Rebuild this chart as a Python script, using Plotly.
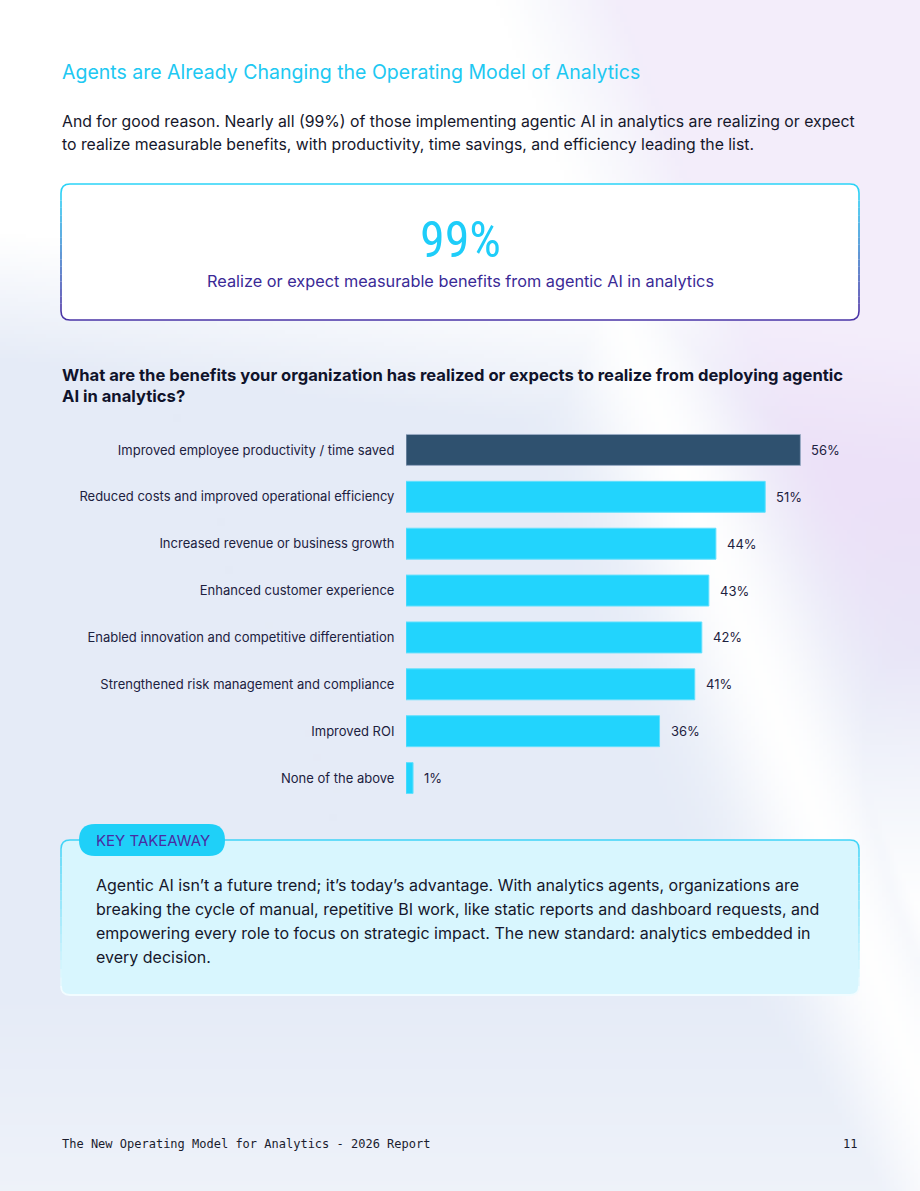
import base64, struct, zlib
import numpy as np
import plotly.graph_objects as go

# ---------------- data ----------------
categories = [
    "Improved employee productivity / time saved",
    "Reduced costs and improved operational efficiency",
    "Increased revenue or business growth",
    "Enhanced customer experience",
    "Enabled innovation and competitive differentiation",
    "Strengthened risk management and compliance",
    "Improved ROI",
    "None of the above",
]
values = [56, 51, 44, 43, 42, 41, 36, 1]
value_labels = ["56%", "51%", "44%", "43%", "42%", "41%", "36%", "1%"]
highlight_index = 0

title_text = "Agents are Already Changing the Operating Model of Analytics"
intro_lines = [
    "And for good reason. Nearly all (99%) of those implementing agentic AI in analytics are realizing or expect",
    "to realize measurable benefits, with productivity, time savings, and efficiency leading the list.",
]
stat_value = "99%"
stat_caption = "Realize or expect measurable benefits from agentic AI in analytics"
question_lines = [
    "What are the benefits your organization has realized or expects to realize from deploying agentic",
    "AI in analytics?",
]
takeaway_label = "KEY TAKEAWAY"
takeaway_lines = [
    "Agentic AI isn\u2019t a future trend; it\u2019s today\u2019s advantage. With analytics agents, organizations are",
    "breaking the cycle of manual, repetitive BI work, like static reports and dashboard requests, and",
    "empowering every role to focus on strategic impact. The new standard: analytics embedded in",
    "every decision.",
]
footer_left = "The New Operating Model for Analytics - 2026 Report"
footer_right = "11"

# ---------------- page geometry helpers ----------------
W, H = 920, 1191
def X(px):
    return px / W
def Y(py):
    return 1 - py / H

def rrect(x0, y0, x1, y1, r):
    return (f"M {X(x0+r)},{Y(y0)} L {X(x1-r)},{Y(y0)} Q {X(x1)},{Y(y0)} {X(x1)},{Y(y0+r)} "
            f"L {X(x1)},{Y(y1-r)} Q {X(x1)},{Y(y1)} {X(x1-r)},{Y(y1)} "
            f"L {X(x0+r)},{Y(y1)} Q {X(x0)},{Y(y1)} {X(x0)},{Y(y1-r)} "
            f"L {X(x0)},{Y(y0+r)} Q {X(x0)},{Y(y0)} {X(x0+r)},{Y(y0)} Z")

# ---------------- decorative background (gradient image) ----------------
S = 4
gh, gw = H // S + 1, W // S + 1
ys, xs = np.mgrid[0:gh, 0:gw].astype(float) * S + S / 2
blue = np.array([229, 235, 247], float)
purple = np.array([236, 225, 248], float)
lx0, ly0, lx1, ly1 = 500.0, 0.0, 890.0, 1000.0
ddx, ddy = lx1 - lx0, ly1 - ly0
L = np.hypot(ddx, ddy)
d = ((xs - lx0) * ddy - (ys - ly0) * ddx) / L
wp = np.clip(d / 130, 0, 1) * np.clip((820 - ys) / 320, 0, 1)
col = blue[None, None, :] * (1 - wp[..., None]) + purple[None, None, :] * wp[..., None]
ythr = 300 + 0.12 * xs
w_top = np.clip((ythr - ys) / 130 + 0.5, 0, 1) * (1 - 0.6 * np.clip(d / 110, 0, 1))
w_band = 0.97 * np.exp(-(d / 75) ** 2)
w_bot = np.clip((ys - 980) / 260, 0, 1) * 0.45
w_right = np.clip((ys - 650) / 250, 0, 1) * np.clip(d / 60, 0, 1) * 0.95
w = np.maximum.reduce([w_top, w_band, w_bot, w_right])
col = col * (1 - w[..., None]) + 255 * w[..., None]
img = np.clip(col, 0, 255).astype(np.uint8)

def to_png(arr):
    h, w_, _ = arr.shape
    raw = b"".join(b"\x00" + arr[i].tobytes() for i in range(h))
    def chunk(t, data):
        c = struct.pack(">I", len(data)) + t + data
        return c + struct.pack(">I", zlib.crc32(t + data) & 0xFFFFFFFF)
    return (b"\x89PNG\r\n\x1a\n" + chunk(b"IHDR", struct.pack(">IIBBBBB", w_, h, 8, 2, 0, 0, 0))
            + chunk(b"IDAT", zlib.compress(raw, 9)) + chunk(b"IEND", b""))

bg_src = "data:image/png;base64," + base64.b64encode(to_png(img)).decode()

# ---------------- figure ----------------
FONT = "Inter, 'Noto Sans', sans-serif"
bar_colors = ["#2f516f" if i == highlight_index else "#22d4fd" for i in range(len(values))]
line_colors = ["#9aabc4" if i == highlight_index else "#63e0fd" for i in range(len(values))]

fig = go.Figure()
fig.add_trace(go.Bar(
    x=values, y=categories, orientation="h",
    marker=dict(color=bar_colors, line=dict(color=line_colors, width=1)),
    hoverinfo="skip", showlegend=False,
))

annotations = []
for cat, v, lab in zip(categories, values, value_labels):
    annotations.append(dict(x=v, y=cat, xref="x", yref="y", text=lab, showarrow=False,
                            xanchor="left", yanchor="middle", xshift=9,
                            font=dict(family=FONT, size=13, color="#1c2140")))

def txt(text, px, py, size, color, anchor="left", weight=None, family=FONT):
    f = dict(family=family, size=size, color=color)
    if weight:
        f["weight"] = weight
    annotations.append(dict(x=X(px), y=Y(py), xref="paper", yref="paper", text=text,
                            showarrow=False, xanchor=anchor, yanchor="middle", font=f))

txt(title_text, 60, 72, 19.5, "#20c8f2")
for i, line in enumerate(intro_lines):
    txt(line, 60, 121 + 24 * i, 15.8, "#15172b")
txt(stat_value, 460, 240, 50, "#1ecdf9", anchor="center",
    family="'Liberation Sans Narrow', 'Roboto Condensed', Roboto, sans-serif")
txt(stat_caption, 460, 281, 16.3, "#3a2a96", anchor="center")
for i, line in enumerate(question_lines):
    txt(line, 60, 375 + 21 * i, 16.6, "#10132b", weight=700)
txt(takeaway_label, 94, 840, 15, "#4a2ca2")
for i, line in enumerate(takeaway_lines):
    txt(line, 94, 885 + 24 * i, 16, "#15172b")
txt(footer_left, 60, 1144, 12, "#1a1c2e", family="'DejaVu Sans Mono', monospace")
txt(footer_right, 859, 1144, 12, "#1a1c2e", anchor="right", family="'DejaVu Sans Mono', monospace")

# ---------------- shapes (boxes) ----------------
shapes = []

def grad_sides(x0, x1, ya0, ya1, c0, c1, n=16, width=1.6):
    for i in range(n):
        t = (i + 0.5) / n
        c = (np.array(c0) * (1 - t) + np.array(c1) * t).astype(int)
        cc = f"rgb({c[0]},{c[1]},{c[2]})"
        ya = ya0 + (ya1 - ya0) * i / n
        yb = ya0 + (ya1 - ya0) * (i + 1) / n
        for xx in (x0, x1):
            shapes.append(dict(type="line", x0=X(xx), x1=X(xx), y0=Y(ya), y1=Y(yb), xref="paper",
                               yref="paper", line=dict(color=cc, width=width), layer="below"))

def top_path(x0, y0, x1, r):
    return (f"M {X(x0)},{Y(y0+r)} Q {X(x0)},{Y(y0)} {X(x0+r)},{Y(y0)} "
            f"L {X(x1-r)},{Y(y0)} Q {X(x1)},{Y(y0)} {X(x1)},{Y(y0+r)}")

def bottom_path(x0, y1, x1, r):
    return (f"M {X(x0)},{Y(y1-r)} Q {X(x0)},{Y(y1)} {X(x0+r)},{Y(y1)} "
            f"L {X(x1-r)},{Y(y1)} Q {X(x1)},{Y(y1)} {X(x1)},{Y(y1-r)}")

# stat box
bx0, by0, bx1, by1, br = 61, 184, 859, 320, 9
shapes.append(dict(type="path", path=rrect(bx0, by0, bx1, by1, br), xref="paper", yref="paper",
                   fillcolor="#ffffff", line=dict(width=0), layer="below"))
shapes.append(dict(type="path", path=top_path(bx0, by0, bx1, br), xref="paper", yref="paper",
                   line=dict(color="#2bd3f7", width=1.6), layer="below"))
grad_sides(bx0, bx1, by0 + br, by1 - br, [43, 211, 247], [74, 52, 166])
shapes.append(dict(type="path", path=bottom_path(bx0, by1, bx1, br), xref="paper", yref="paper",
                   line=dict(color="#4a34a6", width=1.6), layer="below"))

# takeaway box
kx0, ky0, kx1, ky1, kr = 61, 840, 859, 995, 9
shapes.append(dict(type="path", path=rrect(kx0, ky0, kx1, ky1, kr), xref="paper", yref="paper",
                   fillcolor="#d8f6fe", line=dict(width=0), layer="below"))
shapes.append(dict(type="path", path=top_path(kx0, ky0, kx1, kr), xref="paper", yref="paper",
                   line=dict(color="#3fd4f7", width=1.5), layer="below"))
grad_sides(kx0, kx1, ky0 + kr, ky1 - kr, [63, 212, 247], [236, 251, 255], width=1.5)
shapes.append(dict(type="path", path=bottom_path(kx0, ky1, kx1, kr), xref="paper", yref="paper",
                   line=dict(color="#f2fcff", width=1.8), layer="below"))
# pill
shapes.append(dict(type="path", path=rrect(79, 824, 225, 856, 16), xref="paper", yref="paper",
                   fillcolor="#1fd0f8", line=dict(width=0), layer="below"))

fig.update_layout(
    width=W, height=H, template="none",
    margin=dict(l=0, r=0, t=0, b=0, pad=0),
    paper_bgcolor="#eef2fa", plot_bgcolor="rgba(0,0,0,0)",
    bargap=0.34, showlegend=False,
    xaxis=dict(domain=[X(406), X(899)], range=[0, 70], visible=False, fixedrange=True),
    yaxis=dict(domain=[Y(801.5), Y(426.5)], type="category", categoryorder="array",
               categoryarray=categories, range=[7.5, -0.5], showgrid=False, zeroline=False,
               showline=False, ticks="outside", ticklen=8, tickcolor="rgba(0,0,0,0)",
               tickfont=dict(family=FONT, size=13, color="#1c2140"), automargin=False,
               fixedrange=True),
    annotations=annotations, shapes=shapes,
    images=[dict(source=bg_src, xref="paper", yref="paper", x=0, y=1, sizex=1, sizey=1,
                 xanchor="left", yanchor="top", sizing="stretch", layer="below")],
)

fig.write_html("out.html", config={"displayModeBar": False})
